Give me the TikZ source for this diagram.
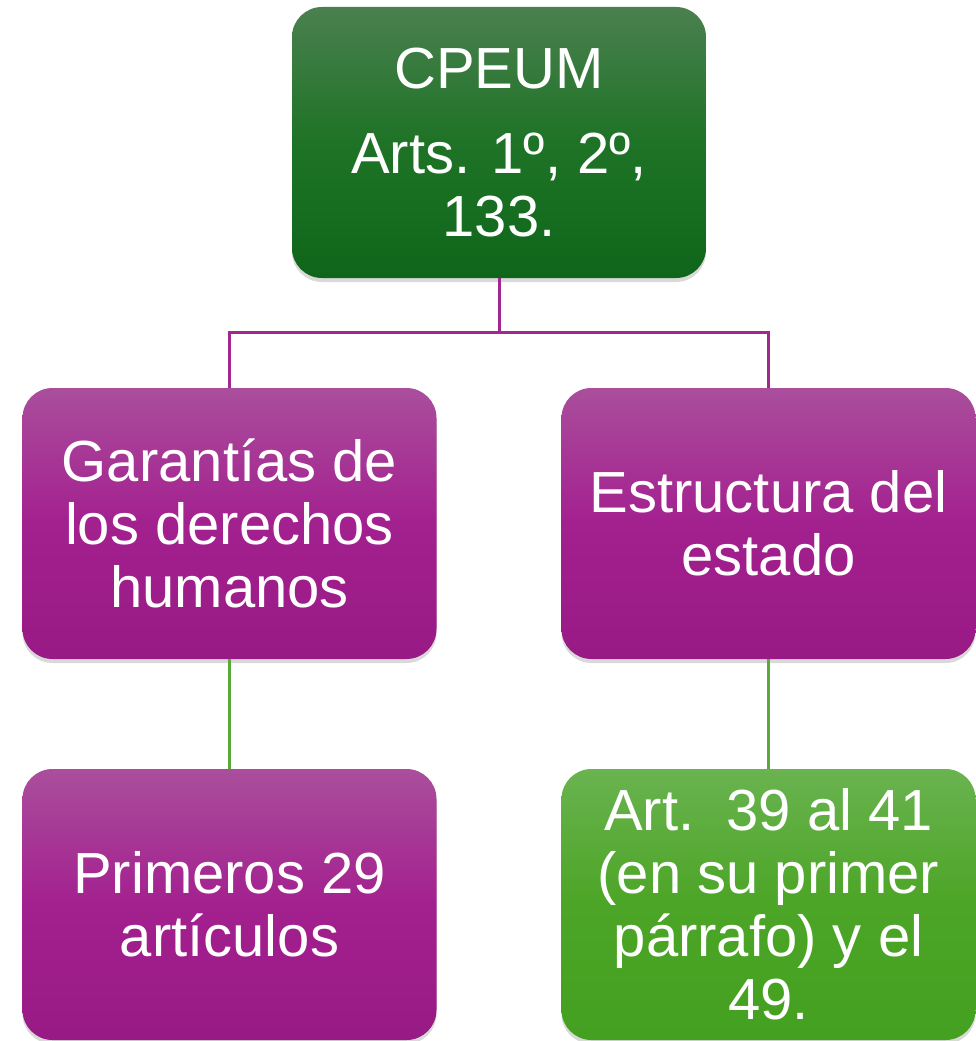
\documentclass[tikz,border=0pt]{standalone}
\usepackage{fontspec}
\setmainfont{Liberation Sans}
\usetikzlibrary{shadows}
\definecolor{gtop}{HTML}{4A804F}
\definecolor{gmid}{HTML}{1E7326}
\definecolor{gbot}{HTML}{0F661A}
\definecolor{ptop}{HTML}{AA4E9C}
\definecolor{pmid}{HTML}{A3208F}
\definecolor{pbot}{HTML}{981A85}
\definecolor{ltop}{HTML}{6AB350}
\definecolor{lmid}{HTML}{4CA526}
\definecolor{lbot}{HTML}{44A020}
\definecolor{pline}{HTML}{A0288E}
\definecolor{lline}{HTML}{5AAA3A}
\begin{document}
\begin{tikzpicture}[x=1pt,y=-1pt,
  box/.style={rounded corners=30pt, minimum width=414pt, minimum height=271pt,
    text=white, align=center, inner sep=0pt,
    font=\fontsize{58}{63}\selectfont,
    drop shadow={opacity=0.3, shadow xshift=0pt, shadow yshift=-4pt}},
  greenbox/.style={box, top color=gtop, bottom color=gbot, middle color=gmid},
  purplebox/.style={box, top color=ptop, bottom color=pbot, middle color=pmid},
  limebox/.style={box, top color=ltop, bottom color=lbot, middle color=lmid},
  pconn/.style={draw=pline, line width=3pt},
  gconn/.style={draw=lline, line width=3pt}]
\useasboundingbox (0,0) rectangle (976,1041);
\node[greenbox] (top) at (499,142.5) {CPEUM\\[22pt]Arts. 1º, 2º,\\133.};
\node[purplebox] (gar) at (229.5,523.5) {Garantías de\\los derechos\\humanos};
\node[purplebox] (est) at (768.5,523.5) {Estructura del\\estado};
\node[purplebox] (pri) at (229.5,904.5) {Primeros 29\\artículos};
\node[limebox] (art) at (768.5,904.5) {Art.\ \ 39 al 41\\(en su primer\\párrafo) y el\\49.};
\coordinate (j) at (499,332);
\draw[pconn] (top.south) -- (j) -| (gar.north);
\draw[pconn] (j) -| (est.north);
\draw[gconn] (gar.south) -- (pri.north);
\draw[gconn] (est.south) -- (art.north);
\end{tikzpicture}
\end{document}
